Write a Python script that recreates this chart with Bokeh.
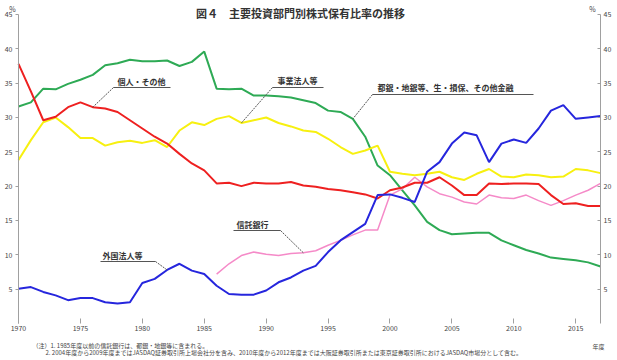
from bokeh.plotting import figure
from bokeh.models import Range1d, LinearAxis, Label, FixedTicker
from bokeh.embed import file_html
from bokeh.resources import INLINE

years = list(range(1970, 2018))
financial = [31.6, 32.2, 34.2, 34.1, 34.9, 35.5, 36.2, 37.6, 37.9, 38.4,
             38.2, 38.2, 38.3, 37.5, 38.1, 39.6, 34.2, 34.1, 34.2, 33.2,
             33.2, 33.1, 32.9, 32.5, 32.1, 31.0, 30.8, 29.8, 27.2, 23.0,
             21.6, 19.4, 17.2, 14.8, 13.6, 13.0, 13.1, 13.2, 13.2, 12.1,
             11.4, 10.7, 10.2, 9.6, 9.4, 9.2, 8.9, 8.3]
individuals = [37.8, 33.8, 29.6, 30.1, 31.5, 32.2, 31.5, 31.3, 30.8, 29.6,
               28.4, 27.2, 26.2, 24.7, 23.3, 22.3, 20.4, 20.5, 20.0, 20.5,
               20.4, 20.4, 20.6, 20.1, 19.9, 19.6, 19.4, 19.1, 18.8, 18.2,
               19.4, 19.8, 20.5, 20.5, 21.3, 20.1, 18.7, 18.7, 20.4, 20.3,
               20.4, 20.4, 20.3, 18.7, 17.4, 17.5, 17.1, 17.1]
business = [23.8, 26.7, 29.3, 30.0, 28.6, 27.0, 27.0, 25.9, 26.4, 26.6,
            26.3, 26.7, 25.7, 28.1, 29.3, 28.9, 29.8, 30.2, 29.2, 29.6,
            30.0, 29.2, 28.7, 28.1, 27.9, 26.9, 25.7, 24.7, 25.2, 25.9,
            22.1, 21.8, 21.6, 21.8, 22.1, 21.3, 20.9, 21.8, 22.5, 21.4,
            21.3, 21.7, 21.6, 21.3, 21.4, 22.5, 22.3, 21.9]
foreign = [5.05, 5.3, 4.6, 4.1, 3.4, 3.7, 3.7, 3.1, 2.9, 3.1,
           5.9, 6.5, 7.8, 8.7, 7.7, 7.2, 5.5, 4.3, 4.2, 4.2,
           4.8, 6.0, 6.7, 7.7, 8.4, 10.4, 12.1, 13.3, 14.5, 18.7,
           18.8, 18.3, 17.7, 22.1, 23.5, 26.2, 27.8, 27.4, 23.5, 26.2,
           26.8, 26.3, 28.4, 31.0, 31.8, 29.8, 30.0, 30.2]
trust_years = list(range(1986, 2018))
trust = [7.2, 8.7, 9.9, 10.4, 10.1, 9.9, 10.2, 10.3, 10.6, 11.4,
         12.1, 12.9, 13.6, 13.6, 18.7, 19.6, 21.3, 19.9, 18.9, 18.4,
         17.7, 17.4, 18.7, 18.3, 18.2, 18.7, 17.9, 17.2, 17.9, 18.7,
         19.4, 20.4]
x_ticks = [1970, 1975, 1980, 1985, 1990, 1995, 2000, 2005, 2010, 2015]
y_ticks = [5, 10, 15, 20, 25, 30, 35, 40, 45]

title_text = "図４　主要投資部門別株式保有比率の推移"
note1 = "（注）1. 1985年度以前の信託銀行は、都銀・地銀等に含まれる。"
note2 = ("2. 2004年度から2009年度まではJASDAQ証券取引所上場会社分を含み、2010年度から2012年度までは"
         "大阪証券取引所または東京証券取引所におけるJASDAQ市場分として含む。")

FONT = "Noto Sans CJK JP"
AXC = "#a0a0a0"
TXC = "#444444"

X0, X1 = years[0], years[-1]
Y0, Y1 = 0, 45
PXY = 12.383   # pixels per year
PXV = 6.867    # pixels per percentage point


def fx(px):
    return X0 + (px - 18) / PXY


def fy(py):
    return (323 - py) / PXV


p = figure(width=617, height=360, output_backend="svg", toolbar_location=None,
           x_range=Range1d(fx(0), fx(617)), y_range=Range1d(fy(360), fy(0)),
           min_border=0, y_axis_location=None)
p.outline_line_color = None
p.grid.visible = False
p.background_fill_color = "white"
p.border_fill_color = "white"

xa = p.xaxis[0]
xa.fixed_location = Y0
xa.bounds = (X0, X1)
xa.ticker = FixedTicker(ticks=x_ticks)
xa.axis_line_alpha = 0
xa.major_tick_in = 5
xa.major_tick_out = 0
xa.minor_tick_line_color = None
xa.major_tick_line_color = AXC
xa.major_label_standoff = 1
xa.major_label_text_font_size = "7px"
xa.major_label_text_color = TXC
xa.major_label_text_font = FONT

for loc, fixed in (("left", X0), ("right", X1)):
    ax = LinearAxis(ticker=FixedTicker(ticks=y_ticks), fixed_location=fixed,
                    bounds=(Y0, Y1))
    ax.axis_line_color = AXC
    ax.major_tick_line_color = AXC
    ax.minor_tick_line_color = None
    ax.major_label_text_font_size = "7px"
    ax.major_label_text_color = TXC
    ax.major_label_text_font = FONT
    ax.major_label_standoff = 3
    if loc == "left":
        ax.major_tick_out = 3
        ax.major_tick_in = 0
    else:
        ax.major_tick_out = 0
        ax.major_tick_in = 3
    p.add_layout(ax, loc)

p.line(years, financial, line_color="#2eaa55", line_width=2)
p.line(years, business, line_color="#f7f010", line_width=2)
p.line(trust_years, trust, line_color="#f58ac8", line_width=1.5)
p.line(years, individuals, line_color="#ee2020", line_width=2)
p.line(years, foreign, line_color="#2626dd", line_width=2)


def callout(text, tx, ty, ux0, ux1, uy, start_left, tgt_year, series, yrs):
    v = series[yrs.index(tgt_year)]
    p.add_layout(Label(x=fx(tx), y=fy(ty), text=text, text_font=FONT,
                       text_font_size="8px", text_color="#333333",
                       text_font_style="bold", text_baseline="middle",
                       text_align="left"))
    p.line([fx(ux0), fx(ux1)], [fy(uy), fy(uy)], line_color="#555555", line_width=1)
    sx = fx(ux0) if start_left else fx(ux1)
    p.line([sx, tgt_year], [fy(uy), v], line_color="#555555", line_width=1,
           line_dash="2 1")


callout("個人・その他", 117, 81, 113, 170, 87, True, 1976, individuals, years)
callout("事業法人等", 277, 80, 272, 323, 87, True, 1988, business, years)
callout("都銀・地銀等、生・損保、その他金融", 377, 87, 372, 533, 94, True, 1997,
        financial, years)
callout("信託銀行", 236, 224, 233, 280, 230, False, 1993, trust, trust_years)
callout("外国法人等", 102, 255, 100, 155, 261, False, 1982, foreign, years)


def text_label(text, x, y, size, align="left", bold=False, color=TXC):
    p.add_layout(Label(x=fx(x), y=fy(y), text=text,
                       text_font=FONT, text_font_size=size, text_color=color,
                       text_font_style="bold" if bold else "normal",
                       text_align=align, text_baseline="middle"))


text_label(title_text, 300, 12, "11px", align="center", bold=True, color="#333333")
text_label("%", 12, 8, "7px", align="center")
text_label("%", 592, 8, "7px", align="center")
text_label(note1, 32, 345, "6px")
text_label(note2, 45, 352, "6px")
text_label("年度", 598, 346, "6px", align="center")

open("out.html", "w").write(file_html(p, INLINE))
